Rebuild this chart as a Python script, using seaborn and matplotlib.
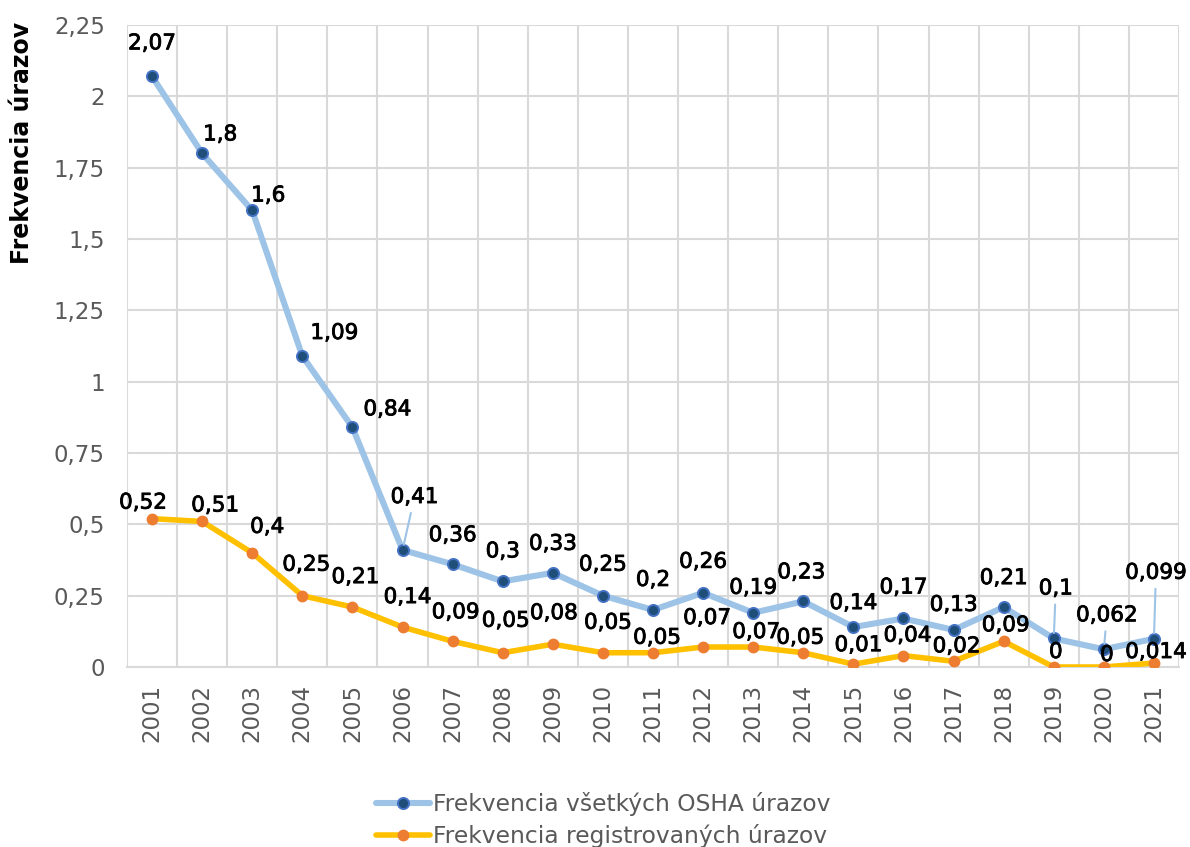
import numpy as np
import pandas as pd
import matplotlib
matplotlib.use("Agg")
import matplotlib.pyplot as plt
import matplotlib.patheffects as pe
from matplotlib.ticker import FuncFormatter
from matplotlib.lines import Line2D
import seaborn as sns

years = [str(y) for y in range(2001, 2022)]
osha_all = [2.07, 1.8, 1.6, 1.09, 0.84, 0.41, 0.36, 0.3, 0.33, 0.25, 0.2,
            0.26, 0.19, 0.23, 0.14, 0.17, 0.13, 0.21, 0.1, 0.062, 0.099]
registered = [0.52, 0.51, 0.4, 0.25, 0.21, 0.14, 0.09, 0.05, 0.08, 0.05, 0.05,
              0.07, 0.07, 0.05, 0.01, 0.04, 0.02, 0.09, 0, 0, 0.014]
series_names = ["Frekvencia všetkých OSHA úrazov", "Frekvencia registrovaných úrazov"]
y_title = "Frekvencia úrazov"

# label offsets in pixels (dx, dy)
blue_off = [(0, 33), (18, 19), (16, 15), (32, 23), (35, 18), (12, 53), (0, 29),
            (0, 30), (0, 29), (0, 31), (0, 30), (0, 31), (0, 25), (-2, 29),
            (0, 24), (0, 31), (0, 25), (0, 29), (2, 50), (3, 34), (2, 66)]
orange_off = [(-9, 16), (13, 16), (15, 26), (4, 31), (3, 30), (5, 30), (3, 29),
              (3, 32), (1, 31), (5, 30), (4, 15), (4, 29), (3, 15), (-3, 15),
              (5, 19), (4, 20), (3, 15), (2, 16), (2, 15), (3, 12), (2, 11)]
leader_blue = {5, 18, 19, 20}

def fmt(v):
    s = f"{v:g}"
    return s.replace(".", ",")

sns.set_style("white")
plt.rcParams["font.family"] = ["DejaVu Sans"]

BLUE_LINE = "#9DC3E6"
BLUE_MK = "#1F4E79"
BLUE_EDGE = "#4472C4"
ORANGE_LINE = "#FFC000"
ORANGE_MK = "#ED7D31"
GRID = "#D9D9D9"
TXT = "#595959"

fig = plt.figure(figsize=(11.9, 8.47), dpi=100)
ax = fig.add_axes([127 / 1190, 1 - 667 / 847, (1179 - 127) / 1190, (667 - 25) / 847])

idx = np.arange(len(years))
df = pd.DataFrame({"x": idx, "all": osha_all, "reg": registered})

sns.lineplot(data=df, x="x", y="all", ax=ax, color=BLUE_LINE, linewidth=4.4,
             marker="o", markersize=8, markerfacecolor=BLUE_MK,
             markeredgecolor=BLUE_EDGE, markeredgewidth=1.4, zorder=3)
sns.lineplot(data=df, x="x", y="reg", ax=ax, color=ORANGE_LINE, linewidth=4.0,
             marker="o", markersize=8.5, markerfacecolor=ORANGE_MK,
             markeredgecolor=ORANGE_MK, markeredgewidth=0, zorder=4)

medium = [pe.withStroke(linewidth=0.6, foreground="black")]
for i, v in enumerate(osha_all):
    dx, dy = blue_off[i]
    kw = {}
    if i in leader_blue:
        kw["arrowprops"] = dict(arrowstyle="-", color=BLUE_LINE, lw=1.5,
                                shrinkA=2, shrinkB=4)
    t = ax.annotate(fmt(v), (i, v), xytext=(dx, dy), textcoords="offset pixels",
                    ha="center", va="center", fontsize=15.5, color="black", zorder=6, **kw)
    t.set_path_effects(medium)
for i, v in enumerate(registered):
    dx, dy = orange_off[i]
    t = ax.annotate(fmt(v), (i, v), xytext=(dx, dy), textcoords="offset pixels",
                    ha="center", va="center", fontsize=15.5, color="black", zorder=6)
    t.set_path_effects(medium)

ax.set_xlim(-0.5, len(years) - 0.5)
ax.set_ylim(0, 2.25)
ax.set_yticks(np.arange(0, 2.26, 0.25))
ax.yaxis.set_major_formatter(FuncFormatter(lambda v, p: fmt(round(v, 2))))
ax.set_xticks(idx)
ax.set_xticklabels(years, rotation=90)
ax.set_xticks(np.arange(-0.5, len(years), 1), minor=True)
ax.tick_params(axis="x", which="both", length=0, pad=12, labelsize=16.5, labelcolor=TXT)
ax.tick_params(axis="y", length=0, pad=16, labelsize=16.5, labelcolor=TXT)
ax.grid(which="minor", axis="x", color=GRID, lw=1.5)
ax.grid(which="major", axis="y", color=GRID, lw=1.5)
ax.grid(which="major", axis="x", visible=False)
ax.set_xlabel("")
ax.set_ylabel("")
for s in ["top", "right", "left"]:
    ax.spines[s].set_visible(False)
ax.spines["bottom"].set_color(GRID)
ax.spines["bottom"].set_linewidth(1.5)

fig.text(22 / 1190, 1 - 143 / 847, y_title, rotation=90, ha="center", va="center",
         fontsize=17, fontweight="bold", color="black")

handles = [
    Line2D([], [], color=BLUE_LINE, lw=4.4, marker="o", markersize=8,
           markerfacecolor=BLUE_MK, markeredgecolor=BLUE_EDGE, markeredgewidth=1.4),
    Line2D([], [], color=ORANGE_LINE, lw=4.0, marker="o", markersize=8.5,
           markerfacecolor=ORANGE_MK, markeredgewidth=0),
]
leg = ax.legend(handles, series_names, loc="center", bbox_to_anchor=(0.507, 1 - 820 / 847),
                bbox_transform=fig.transFigure, frameon=False, fontsize=16.8,
                handlelength=2.3, handletextpad=0.15, labelspacing=0.35, borderpad=0)
for t in leg.get_texts():
    t.set_color(TXT)

fig.savefig("out.png", dpi=100)
